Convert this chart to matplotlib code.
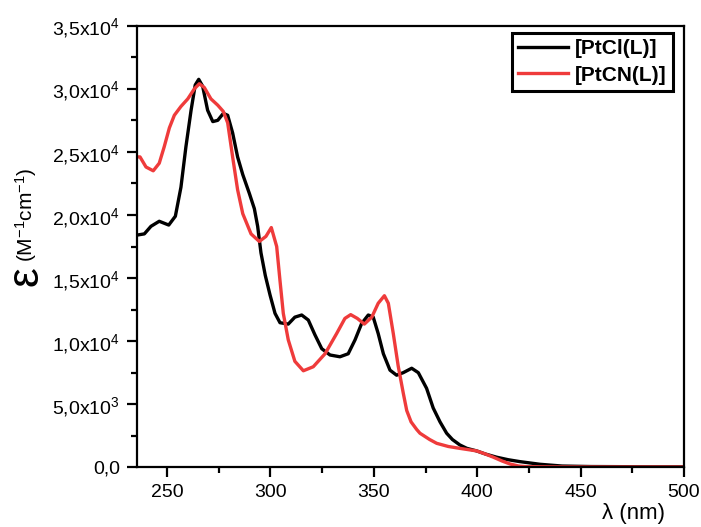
import matplotlib
matplotlib.use("Agg")
import matplotlib.pyplot as plt
from matplotlib.ticker import MultipleLocator, FuncFormatter

plt.rcParams['font.family'] = ['Liberation Sans', 'DejaVu Sans']
plt.rcParams['mathtext.fontset'] = 'custom'
plt.rcParams['mathtext.rm'] = 'Liberation Sans'
plt.rcParams['mathtext.it'] = 'Liberation Sans'

# [PtCl(L)]
wl_cl = [235.3, 239, 242.2, 246.2, 250.8, 254, 256.7, 259.1, 261.6, 263.6, 265.3, 267.2,
         269.6, 272.1, 274.5, 277.2, 279.3, 281.7, 284.1, 286.6, 289.8, 292.2, 293.8, 295.4,
         297.5, 299.8, 302.2, 304.6, 308.6, 311.8, 315.1, 318.3, 321.5, 324.8, 328.8, 333.6,
         337.6, 340.9, 344.1, 347.3, 349.7, 352.1, 354.6, 357.8, 361, 364.2, 368.3, 371.5,
         375.5, 378.7, 382, 385.2, 388, 391.6, 395, 399.7, 404, 409.4, 415, 420.6, 430.3,
         441, 455, 470, 485, 500]
eps_cl = [18400, 18500, 19100, 19500, 19200, 19900, 22200, 25400, 28300, 30300, 30750, 30200,
          28300, 27400, 27500, 28050, 27900, 26500, 24600, 23200, 21700, 20500, 19100, 17000,
          15200, 13650, 12200, 11460, 11350, 11900, 12070, 11670, 10500, 9400, 8900, 8760,
          9000, 10100, 11400, 12070, 11900, 10600, 9000, 7700, 7300, 7500, 7850, 7500,
          6260, 4700, 3600, 2700, 2200, 1770, 1500, 1300, 1050, 800, 600, 450, 240,
          100, 60, 50, 40, 40]

# [PtCN(L)]
wl_cn = [235.3, 236.9, 239.8, 243.3, 246.2, 248.6, 251.1, 253.5, 256.7, 260, 263.2, 265.6,
         268, 271.2, 274.5, 277.2, 279.3, 281.7, 284.1, 286.6, 290.6, 294.6, 297.8, 300.4,
         303, 304.6, 306.2, 308.6, 311.8, 315.9, 320.7, 326.4, 332, 336, 338.8, 342,
         345.4, 349, 352.1, 355.1, 357, 359.4, 361.8, 364.2, 365.9, 368, 370.7, 372.3,
         377, 380.4, 386, 391.6, 399.7, 404, 407.8, 412, 415.9, 420, 424, 440, 460,
         480, 500]
eps_cn = [24600, 24600, 23800, 23500, 24100, 25400, 26900, 27900, 28600, 29200, 30000, 30400,
          30100, 29200, 28700, 28200, 27300, 24600, 22000, 20100, 18500, 17900, 18300, 19000,
          17500, 14800, 12200, 10100, 8400, 7650, 7970, 9000, 10600, 11800, 12100, 11800,
          11350, 11900, 13000, 13600, 13000, 10600, 8000, 5900, 4500, 3600, 3000, 2700,
          2200, 1900, 1650, 1500, 1300, 1050, 800, 500, 260, 100, 50, 30, 20,
          20, 20]

fig = plt.figure(figsize=(7.01, 5.27), dpi=100)
ax = fig.add_axes([136.7 / 701, 1 - 467.3 / 527, (684 - 136.7) / 701, (467.3 - 25.7) / 527])

ax.plot(wl_cl, eps_cl, color='black', lw=2.4, label='[PtCl(L)]')
ax.plot(wl_cn, eps_cn, color='#ef3b3b', lw=2.4, label='[PtCN(L)]')

ax.set_xlim(235.3, 500)
ax.set_ylim(0, 35000)

ax.xaxis.set_major_locator(MultipleLocator(50))
ax.xaxis.set_minor_locator(MultipleLocator(25))
ax.yaxis.set_major_locator(MultipleLocator(5000))
ax.yaxis.set_minor_locator(MultipleLocator(2500))


def yfmt(v, pos):
    if v == 0:
        return '0,0'
    exp = 0
    m = v
    while m >= 10:
        m /= 10
        exp += 1
    s = ('%.1f' % m).replace('.', ',')
    return s + 'x10$^{%d}$' % exp


ax.yaxis.set_major_formatter(FuncFormatter(yfmt))

for s in ax.spines.values():
    s.set_linewidth(1.6)
ax.tick_params(which='major', direction='out', length=7, width=1.6, labelsize=14, pad=5)
ax.tick_params(which='minor', direction='out', length=4, width=1.6)

leg = ax.legend(loc='upper right', bbox_to_anchor=(0.98, 0.983), borderaxespad=0,
                fancybox=False, edgecolor='black', framealpha=1,
                prop={'weight': 'bold', 'size': 15}, handlelength=2.4,
                handletextpad=0.35, borderpad=0.3, labelspacing=0.35)
leg.get_frame().set_linewidth(2.2)

fig.text(634 / 701, 1 - 513 / 527, 'λ (nm)', fontsize=16, ha='center', va='center')
fig.text(26 / 701, 1 - 215 / 527, '(M$^{-1}$cm$^{-1}$)', fontsize=15, rotation=90,
         ha='center', va='center')
fig.text(26 / 701, 1 - 276 / 527, 'ε', fontsize=32, rotation=90, ha='center', va='center')

fig.savefig('out.png', dpi=100)
